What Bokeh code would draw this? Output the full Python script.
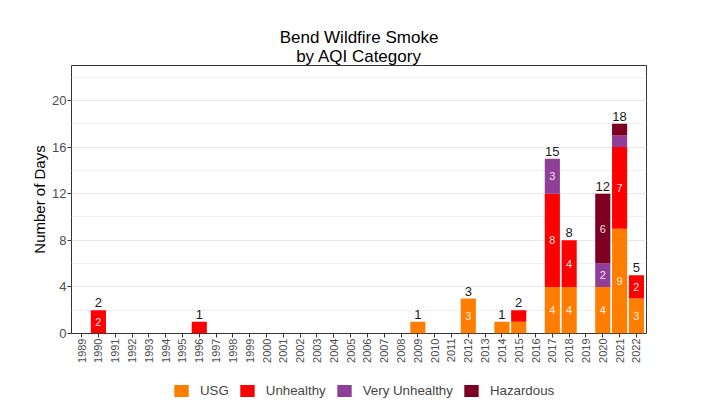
import math
from bokeh.plotting import figure
from bokeh.layouts import column
from bokeh.models import (ColumnDataSource, FactorRange, Legend, LegendItem,
                          SingleIntervalTicker, Range1d, Title)
from bokeh.embed import file_html
from bokeh.resources import INLINE
from bokeh.core.properties import value

years = [str(y) for y in range(1989, 2023)]
usg = [0, 0, 0, 0, 0, 0, 0, 0, 0, 0,
       0, 0, 0, 0, 0, 0, 0, 0, 0, 0,
       1, 0, 0, 3, 0, 1, 1, 0, 4, 4,
       0, 4, 9, 3]
unhealthy = [0, 2, 0, 0, 0, 0, 0, 1, 0, 0,
             0, 0, 0, 0, 0, 0, 0, 0, 0, 0,
             0, 0, 0, 0, 0, 0, 1, 0, 8, 4,
             0, 0, 7, 2]
very_unhealthy = [0, 0, 0, 0, 0, 0, 0, 0, 0, 0,
                  0, 0, 0, 0, 0, 0, 0, 0, 0, 0,
                  0, 0, 0, 0, 0, 0, 0, 0, 3, 0,
                  0, 2, 1, 0]
hazardous = [0, 0, 0, 0, 0, 0, 0, 0, 0, 0,
             0, 0, 0, 0, 0, 0, 0, 0, 0, 0,
             0, 0, 0, 0, 0, 0, 0, 0, 0, 0,
             0, 6, 1, 0]

categories = ["USG", "Unhealthy", "Very Unhealthy", "Hazardous"]
colors = ["#FF7E00", "#FF0000", "#8F3F97", "#7E0023"]
keys = ["usg", "unhealthy", "very", "haz"]
series = [usg, unhealthy, very_unhealthy, hazardous]

FONT = "Liberation Sans"

src = ColumnDataSource(dict(year=years, usg=usg, unhealthy=unhealthy,
                            very=very_unhealthy, haz=hazardous))

p = figure(x_range=FactorRange(factors=years, range_padding=0.1,
                               range_padding_units="absolute"),
           y_range=Range1d(0, 23),
           width=702, height=375, output_backend="svg", toolbar_location=None,
           min_border_left=71, min_border_right=56, min_border_top=65,
           min_border_bottom=42)

# title: two centred lines (figure title is the outer one)
p.title.text = "Bend Wildfire Smoke"
p.title.align = "center"
p.title.text_font = FONT
p.title.text_font_size = "17px"
p.title.text_font_style = "normal"
p.title.text_color = "black"
p.title.text_line_height = 0.8
p.title.standoff = -4
p.title.offset = -3
t2 = Title(text="by AQI Category", align="center", text_font=FONT,
           text_font_size="17px", text_font_style="normal",
           text_color="black", standoff=0, offset=0, text_line_height=0.8)
p.add_layout(t2, "above")

rs = p.vbar_stack(keys, x="year", width=0.9, color=colors, line_color=None,
                  source=src)

# totals above bars
tot_x, tot_y, tot_t = [], [], []
for i, y in enumerate(years):
    t = usg[i] + unhealthy[i] + very_unhealthy[i] + hazardous[i]
    if t > 0:
        tot_x.append(y)
        tot_y.append(t)
        tot_t.append(str(t))
p.text(x=tot_x, y=tot_y, text=tot_t, text_align="center",
       text_baseline="bottom", y_offset=-3, text_font=value(FONT),
       text_font_size="13px", text_color="#1A1A1A")

# inner labels
in_x, in_y, in_t = [], [], []
for i, y in enumerate(years):
    base = 0
    for s in series:
        v = s[i]
        if v > 1:
            in_x.append(y)
            in_y.append(base + v / 2)
            in_t.append(str(v))
        base += v
p.text(x=in_x, y=in_y, text=in_t, text_align="center",
       text_baseline="middle", text_font=value(FONT),
       text_font_size="11px", text_color="white", text_alpha=0.9)

# axes
p.yaxis.ticker = SingleIntervalTicker(interval=4, num_minor_ticks=2)
p.yaxis.axis_label = "Number of Days"
p.yaxis.axis_label_text_font = FONT
p.yaxis.axis_label_text_font_size = "15px"
p.yaxis.axis_label_text_font_style = "normal"
p.yaxis.axis_label_text_color = "black"
p.yaxis.axis_label_standoff = 1
for ax in (p.xaxis, p.yaxis):
    ax.axis_line_color = None
    ax.major_tick_line_color = "#333333"
    ax.major_tick_out = 4
    ax.major_tick_in = 0
    ax.minor_tick_line_color = None
    ax.major_label_text_font = FONT
    ax.major_label_text_color = "#4D4D4D"
    ax.major_label_standoff = 1
p.yaxis.major_label_text_font_size = "13px"
p.xaxis.major_label_text_font_size = "11px"
p.xaxis.major_label_orientation = math.pi / 2

p.xgrid.grid_line_color = None
p.ygrid.grid_line_color = "#E8E8E8"
p.ygrid.minor_grid_line_color = "#F0F0F0"

p.outline_line_color = "#333333"
p.outline_line_width = 1
p.background_fill_color = "white"
p.border_fill_color = "white"

# separate strip for the legend below the chart (frame aligned with chart)
lg = figure(width=702, height=28, output_backend="svg", toolbar_location=None,
            x_range=Range1d(0, 1), y_range=Range1d(0, 1),
            min_border_left=0, min_border_right=0, min_border_top=0,
            min_border_bottom=0)
lg.axis.visible = False
lg.grid.visible = False
lg.outline_line_color = None
# zero-height bars: they only provide the legend swatches
dummies = [lg.vbar(x=[0.5], top=[0], bottom=[0], width=0.01, color=c,
                   line_color=None)
           for c in colors]
legend = Legend(items=[LegendItem(label=c, renderers=[r])
                       for c, r in zip(categories, dummies)],
                orientation="horizontal", location=(101, 5),
                glyph_width=18, glyph_height=15, label_standoff=10,
                spacing=9, padding=0, margin=0, border_line_color=None,
                background_fill_alpha=0, label_text_font=FONT,
                label_text_font_size="13.3px", label_height=15)
lg.add_layout(legend)

open("out.html", "w").write(file_html(column(p, lg, spacing=0), INLINE))
